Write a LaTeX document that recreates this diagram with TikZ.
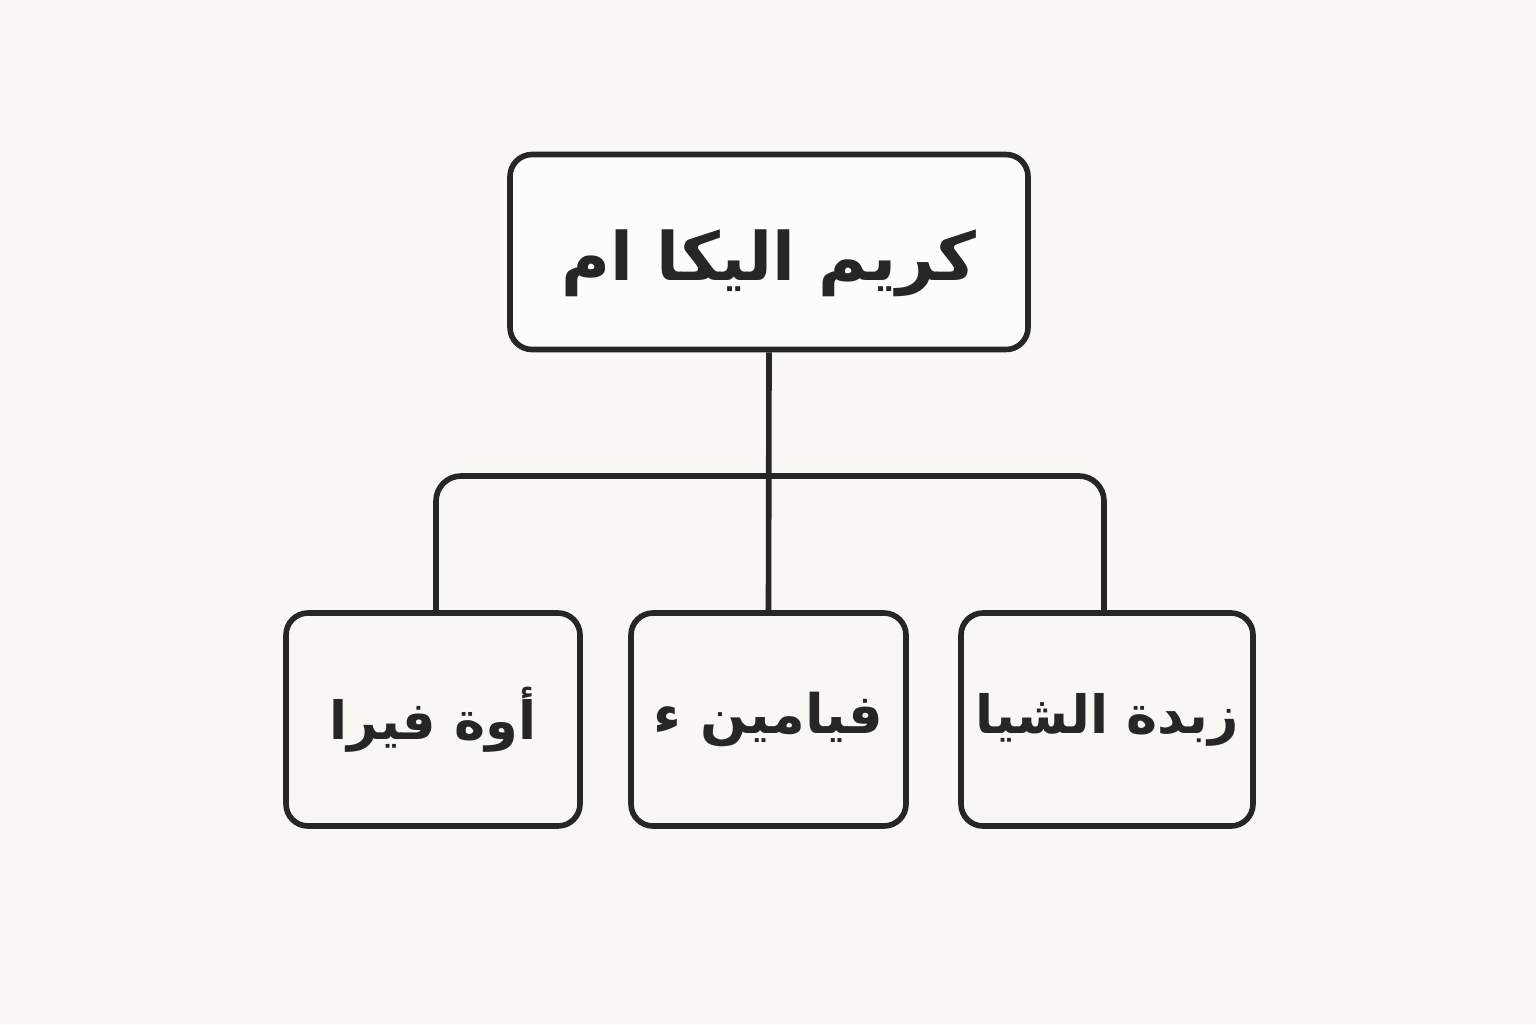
\documentclass[tikz,border=0pt]{standalone}
\usepackage{fontspec}
\newfontfamily\arabicfont[Script=Arabic]{DejaVu Sans}
\TeXXeTstate=1
\usetikzlibrary{positioning}

\begin{document}
\begin{tikzpicture}
    \tikzset{every path/.style={line width=1.6pt}}
\definecolor{Papier}{RGB}{248,247,244}
\definecolor{Rahmen}{RGB}{38,38,38}
\fill[Papier] (0,0) rectangle (15.36,-10.24);
\useasboundingbox (0,0) rectangle (15.36,-10.24);
% Oberer Knoten
\node[draw=Rahmen, rounded corners=0.22cm, fill=white!60!Papier, minimum width=5.18cm, minimum height=1.95cm, inner sep=0pt, text=Rahmen, font=\arabicfont\bfseries\fontsize{19}{23}\selectfont] (root) at (7.69,-2.52) {\raisebox{-1.1mm}[\height][\depth]{\beginR كريم اليكا ام\endR}};
% Untere Knoten
\node[draw=Rahmen, rounded corners=0.22cm, minimum width=2.94cm, minimum height=2.13cm, inner sep=0pt, text=Rahmen, font=\arabicfont\bfseries\fontsize{15}{18}\selectfont] (childA) at (4.33,-7.195) {\beginR أوة فيرا\endR};
\node[draw=Rahmen, rounded corners=0.22cm, minimum width=2.75cm, minimum height=2.13cm, inner sep=0pt, text=Rahmen, font=\arabicfont\bfseries\fontsize{15.5}{18}\selectfont] (childB) at (7.685,-7.195) {\beginR فيامين ء\endR};
\node[draw=Rahmen, rounded corners=0.22cm, minimum width=2.92cm, minimum height=2.13cm, inner sep=0pt, text=Rahmen, font=\arabicfont\bfseries\fontsize{15}{18}\selectfont] (childC) at (11.07,-7.195) {\beginR زبدة الشيا\endR};

% Verbindungen
\coordinate (bus) at (7.69,-4.76);
\draw[Rahmen] (root.south) -- (childB.north);
\draw[Rahmen, rounded corners=0.25cm] ([xshift=0.03cm]childA.north) |- (bus) -| ([xshift=-0.03cm]childC.north);
\end{tikzpicture}
\end{document}
